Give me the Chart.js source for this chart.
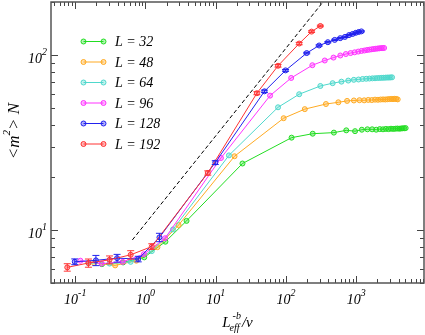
<!DOCTYPE html>
<html>
<head>
<meta charset="utf-8">
<script src="https://cdn.jsdelivr.net/npm/chart.js@4"></script>
<style>
  html, body { margin: 0; padding: 0; background: #fff; }
  canvas { display: block; }
</style>
</head>
<body>
<canvas id="c" width="425" height="335"></canvas>
<script>
// series labels and colours (legend order)
const sizes = [32, 48, 64, 96, 128, 192];
const colors = ['#22dd22', '#ffaa22', '#4fd8cc', '#ff33ff', '#2222ee', '#ff3333'];
const fills = ['rgba(34,221,34,0.35)', 'rgba(255,170,34,0.35)', 'rgba(79,216,204,0.35)',
               'rgba(255,51,255,0.35)', 'rgba(34,34,238,0.35)', 'rgba(255,51,51,0.35)'];

// L = 32
const x32 = [0.24, 0.48, 0.96, 1.92, 3.84, 24, 120, 240, 480, 720, 960, 1200, 1440, 1680, 1920, 2160,
             2400, 2640, 2880, 3120, 3360, 3600, 3840, 4080, 4320, 4560, 4800, 5040];
const y32 = [6.4, 6.55, 7.0, 8.6, 11.3, 24.0, 33.7, 35.5, 36.0, 37.1, 36.7, 37.4, 37.6, 37.6, 37.4, 37.7,
             37.6, 37.8, 37.7, 37.9, 37.8, 37.9, 38.0, 37.9, 38.0, 38.1, 38.1, 38.2];
// L = 48
const x48 = [0.185, 0.37, 0.74, 1.48, 2.96, 18.5, 92.5, 185, 370, 555, 740, 925, 1110, 1295, 1480, 1665,
             1850, 2035, 2220, 2405, 2590, 2775, 2960, 3145, 3330, 3515, 3700, 3885];
const y48 = [6.5, 6.3, 6.7, 8.0, 10.7, 26.4, 43.5, 49.0, 52.4, 53.6, 54.6, 54.9, 55.1, 55.0, 55.3, 55.2,
             55.5, 55.4, 55.6, 55.7, 55.6, 55.8, 55.9, 56.0, 55.9, 56.1, 56.0, 55.7];
// L = 64
const x64 = [0.154, 0.308, 0.615, 1.23, 2.46, 15.4, 77, 154, 308, 461, 615, 769, 923, 1077, 1230, 1384,
             1538, 1692, 1846, 2000, 2153, 2307, 2461, 2615, 2769, 2922, 3076, 3230];
const y64 = [6.5, 6.45, 6.6, 7.6, 10.1, 26.7, 50.2, 59.6, 66.4, 68.9, 70.3, 71.3, 72.0, 72.3, 72.8, 73.0,
             73.2, 73.4, 73.5, 73.7, 73.8, 73.9, 74.0, 74.1, 74.2, 74.2, 74.3, 74.4];
// L = 96
const x96 = [0.1185, 0.237, 0.474, 0.948, 1.9, 11.85, 59.3, 118.5, 237, 356, 474, 593, 711, 830, 948, 1067,
             1185, 1304, 1422, 1541, 1659, 1778, 1896, 2015, 2133, 2252, 2370, 2489];
const y96 = [6.7, 6.45, 6.6, 7.3, 9.0, 25.8, 58.5, 73.8, 87.2, 92.8, 96.4, 99.1, 101.0, 102.3, 103.3, 104.3,
             105.2, 105.8, 106.5, 107.0, 107.5, 107.9, 108.3, 108.6, 108.9, 109.1, 109.3, 109.4];
// L = 128
const x128 = [0.0985, 0.197, 0.394, 0.788, 1.58, 9.85, 49.3, 98.5, 197, 296, 394, 493, 591, 690, 788, 887,
              985, 1084, 1182];
const y128 = [6.61, 6.73, 6.93, 6.85, 9.1, 24.3, 61.9, 81.5, 102.3, 113, 118, 121.6, 124.4, 126.5, 129.5, 131.5,
              133.5, 135, 136];
const err128 = [0.25, 0.45, 0.35, 0.25, 0.5, 0.6, 1, 1, 1, 1, 1, 1, 1, 1, 1, 1, 1, 1, 1];
// L = 192
const x192 = [0.077, 0.154, 0.308, 0.616, 1.23, 7.7, 38.5, 77, 154, 231, 308];
const y192 = [6.14, 6.5, 6.78, 7.24, 8.07, 21.2, 60.4, 86.6, 115.9, 135.6, 146];
const err192 = [0.3, 0.35, 0.35, 0.4, 0.3, 0.6, 1.2, 1.5, 1.8, 1.5, 1.5];

// dashed guide line (slope 1/2)
const guideX = [0.65, 335];
const guideY = [8.8, 199.8];

// axes
const xMin = 0.0452, xMax = 9200;
const yMin = 5, yMax = 200;
const xTickExps = [-1, 0, 1, 2, 3];
const yTickExps = [1, 2];

const xs = [x32, x48, x64, x96, x128, x192];
const ys = [y32, y48, y64, y96, y128, y192];
const errs = [null, null, null, null, err128, err192];

const SERIF = '"Liberation Serif", "DejaVu Serif", serif';

const datasets = sizes.map((L, i) => ({
  label: 'L = ' + L,
  data: xs[i].map((x, k) => ({ x, y: ys[i][k] })),
  borderColor: colors[i],
  backgroundColor: fills[i],
  pointBackgroundColor: fills[i],
  pointBorderColor: colors[i],
  pointRadius: 2.5,
  pointBorderWidth: 1,
  borderWidth: 1,
  tension: 0,
  order: sizes.length - i
}));
datasets.push({
  label: 'guide',
  data: guideX.map((x, k) => ({ x, y: guideY[k] })),
  borderColor: '#000',
  borderWidth: 1,
  borderDash: [4, 2.5],
  pointRadius: 0,
  order: 10
});

function rich(ctx, parts, x, y, align) {
  let w = 0;
  for (const p of parts) { ctx.font = `italic ${p[1]}px ${SERIF}`; w += ctx.measureText(p[0]).width; }
  let cx = align === 'center' ? x - w / 2 : align === 'right' ? x - w : x;
  for (const p of parts) {
    ctx.font = `italic ${p[1]}px ${SERIF}`;
    ctx.fillText(p[0], cx, y + p[2]);
    cx += ctx.measureText(p[0]).width;
  }
}

function logTicks(min, max) {
  const out = [];
  for (let d = Math.floor(Math.log10(min)); d <= Math.ceil(Math.log10(max)); d++) {
    for (let m = 1; m <= 9; m++) {
      const v = m * Math.pow(10, d);
      if (v >= min && v <= max) out.push([v, m === 1]);
    }
  }
  return out;
}

const decor = {
  id: 'decor',
  afterDatasetsDraw(chart) {
    const ctx = chart.ctx, sx = chart.scales.x, sy = chart.scales.y;
    ctx.save();
    ctx.lineWidth = 1;
    errs.forEach((e, i) => {
      if (!e) return;
      ctx.strokeStyle = colors[i];
      e.forEach((d, k) => {
        const px = sx.getPixelForValue(xs[i][k]);
        const p1 = sy.getPixelForValue(ys[i][k] + d);
        const p2 = sy.getPixelForValue(ys[i][k] - d);
        ctx.beginPath();
        ctx.moveTo(px, p1); ctx.lineTo(px, p2);
        ctx.moveTo(px - 3.5, p1); ctx.lineTo(px + 3.5, p1);
        ctx.moveTo(px - 3.5, p2); ctx.lineTo(px + 3.5, p2);
        ctx.stroke();
      });
    });
    ctx.restore();
  },
  afterDraw(chart) {
    const ctx = chart.ctx, a = chart.chartArea, sx = chart.scales.x, sy = chart.scales.y;
    ctx.save();
    // inward ticks
    ctx.strokeStyle = '#444';
    ctx.lineWidth = 1;
    ctx.beginPath();
    for (const [v, major] of logTicks(xMin, xMax)) {
      const px = Math.round(sx.getPixelForValue(v)) + 0.5;
      const len = major ? 7 : 4;
      ctx.moveTo(px, a.bottom); ctx.lineTo(px, a.bottom - len);
      ctx.moveTo(px, a.top); ctx.lineTo(px, a.top + len);
    }
    for (const [v, major] of logTicks(yMin, yMax)) {
      const py = Math.round(sy.getPixelForValue(v)) + 0.5;
      const len = major ? 7 : 4;
      ctx.moveTo(a.left, py); ctx.lineTo(a.left + len, py);
      ctx.moveTo(a.right, py); ctx.lineTo(a.right - len, py);
    }
    ctx.stroke();
    // frame
    ctx.strokeStyle = '#555';
    ctx.lineWidth = 1.5;
    ctx.strokeRect(a.left, a.top, a.right - a.left, a.bottom - a.top);

    // tick labels
    ctx.fillStyle = '#000';
    ctx.textBaseline = 'alphabetic';
    for (const e of xTickExps) {
      const px = sx.getPixelForValue(Math.pow(10, e));
      rich(ctx, [['10', 14, 0], [String(e), 10, -8]], px, a.bottom + 20.5, 'center');
    }
    for (const e of yTickExps) {
      const py = sy.getPixelForValue(Math.pow(10, e));
      rich(ctx, [['10', 14, 0], [String(e), 10, -8]], a.left - 4, py + 8, 'right');
    }

    // axis titles
    const cx = (a.left + a.right) / 2;
    ctx.font = `italic 15px ${SERIF}`;
    const wL = ctx.measureText('L').width;
    ctx.font = `italic 10px ${SERIF}`;
    const wSub = Math.max(ctx.measureText('eff').width, ctx.measureText('-b').width + 3);
    ctx.font = `italic 15px ${SERIF}`;
    const wNu = ctx.measureText('/\u03bd').width;
    let tx = cx - (wL + wSub + wNu) / 2;
    ctx.fillText('L', tx, 327);
    ctx.font = `italic 10px ${SERIF}`;
    ctx.fillText('eff', tx + wL - 1, 331);
    ctx.fillText('-b', tx + wL + 2, 319);
    ctx.font = `italic 15px ${SERIF}`;
    ctx.fillText('/\u03bd', tx + wL + wSub, 327);

    ctx.save();
    ctx.translate(19, 131);
    ctx.rotate(-Math.PI / 2);
    rich(ctx, [['<m', 17, 0], ['2', 11, -9], ['> N', 17, 0]], 0, 0, 'center');
    ctx.restore();

    // legend
    sizes.forEach((L, i) => {
      const y = 41.5 + i * 20.5;
      ctx.strokeStyle = colors[i];
      ctx.lineWidth = 1;
      ctx.beginPath(); ctx.moveTo(83.5, y); ctx.lineTo(103.5, y); ctx.stroke();
      for (const px of [83.5, 103.5]) {
        ctx.beginPath(); ctx.arc(px, y, 2.5, 0, Math.PI * 2);
        ctx.fillStyle = fills[i]; ctx.fill(); ctx.stroke();
      }
      ctx.fillStyle = '#000';
      ctx.font = `italic 14px ${SERIF}`;
      ctx.fillText('L = ' + L, 115, y + 4.5);
    });
    ctx.restore();
  }
};

new Chart(document.getElementById('c').getContext('2d'), {
  type: 'line',
  data: { datasets },
  options: {
    responsive: false,
    animation: false,
    layout: { autoPadding: false, padding: { top: 2, right: 1, left: 0, bottom: 0 } },
    plugins: { legend: { display: false }, tooltip: { enabled: false } },
    scales: {
      x: {
        type: 'logarithmic', min: xMin, max: xMax,
        grid: { display: false }, border: { display: false }, ticks: { display: false },
        afterFit: s => { s.height = 52; }
      },
      y: {
        type: 'logarithmic', min: yMin, max: yMax,
        grid: { display: false }, border: { display: false }, ticks: { display: false },
        afterFit: s => { s.width = 51; }
      }
    }
  },
  plugins: [decor]
});
</script>
</body>
</html>
